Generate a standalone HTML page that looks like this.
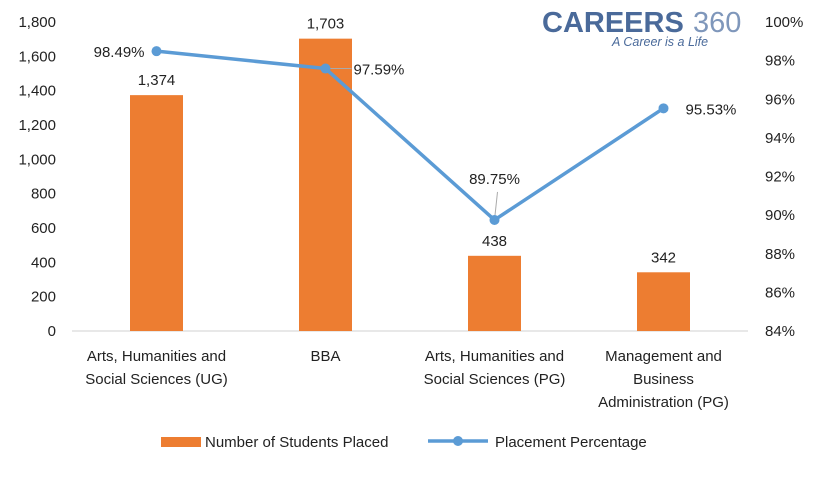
<!DOCTYPE html>
<html><head><meta charset="utf-8"><style>
body{margin:0;background:#fff;}
svg text{font-family:"Liberation Sans",sans-serif;}
.t{font-size:15px;fill:#222;}
</style></head><body>
<svg width="820" height="473">
<g>
<text x="542" y="32" font-size="29" font-weight="bold" fill="#4a6a9a">CAREERS</text>
<text x="693" y="32" font-size="29" fill="#7f97bb">360</text>
<text x="612" y="46" font-size="12.5" font-style="italic" fill="#4a6a9a">A Career is a Life</text>
</g>
<g id="plot"></g>
<g>
<rect x="161" y="437" width="40" height="10" fill="#ed7d31"/>
<text class="t" x="205" y="447">Number of Students Placed</text>
<line x1="428" y1="441" x2="488" y2="441" stroke="#5b9bd5" stroke-width="3.5"/>
<circle cx="458" cy="441" r="5" fill="#5b9bd5"/>
<text class="t" x="495" y="447">Placement Percentage</text>
</g>
</svg>
<script>
const categories=[["Arts, Humanities and","Social Sciences (UG)"],["BBA"],["Arts, Humanities and","Social Sciences (PG)"],["Management and","Business","Administration (PG)"]];
const studentsPlaced=[1374,1703,438,342];
const placementPct=[98.49,97.59,89.75,95.53];
const leftTicks=[0,200,400,600,800,1000,1200,1400,1600,1800];
const rightTicks=[84,86,88,90,92,94,96,98,100];
const NS="http://www.w3.org/2000/svg";
const g=document.getElementById('plot');
const x0=72,x1=748,yb=331,yt=22;
const band=(x1-x0)/categories.length;
const cx=i=>x0+band*(i+0.5);
const yL=v=>yb-(v/1800)*(yb-yt);
const yR=v=>yb-((v-84)/16)*(yb-yt);
function mk(tag,attrs,txt){const e=document.createElementNS(NS,tag);for(const k in attrs)e.setAttribute(k,attrs[k]);if(txt!==undefined)e.textContent=txt;g.appendChild(e);return e;}
leftTicks.forEach(v=>{const e=mk('text',{class:'t',x:56,y:yL(v)+5,'text-anchor':'end'},v.toLocaleString('en-US'));

});
rightTicks.forEach(v=>{const e=mk('text',{class:'t',x:765,y:yR(v)+5},v+'%');

});
const ax=mk('line',{x1:x0,x2:x1,y1:yb,y2:yb,stroke:'#d0d0d0','stroke-width':1});


const bw=53;
studentsPlaced.forEach((v,i)=>{
const r=mk('rect',{x:cx(i)-bw/2,y:yL(v),width:bw,height:yb-yL(v),fill:'#ed7d31'});


const t=mk('text',{class:'t',x:cx(i),y:yL(v)-10,'text-anchor':'middle'},v.toLocaleString('en-US'));


categories[i].forEach((ln,j)=>{const c=mk('text',{class:'t',x:cx(i),y:361+j*23,'text-anchor':'middle'},ln);

});
});
const pts=placementPct.map((v,i)=>[cx(i),yR(v)]);
const pl=mk('polyline',{points:pts.map(p=>p.join(',')).join(' '),fill:'none',stroke:'#5b9bd5','stroke-width':3.5,'stroke-linejoin':'round'});


const off=[[-12,6,'end'],[28,6,'start'],[0,-36,'middle'],[22,6,'start']];
pts.forEach((p,i)=>{
if(i===1){const l=mk('line',{x1:p[0],y1:p[1],x2:p[0]+26,y2:p[1],stroke:'#aaa'});}
if(i===2){const l=mk('line',{x1:p[0],y1:p[1],x2:p[0]+3,y2:p[1]-28,stroke:'#aaa'});}
const c=mk('circle',{cx:p[0],cy:p[1],r:5,fill:'#5b9bd5'});


const t=mk('text',{class:'t',x:p[0]+off[i][0],y:p[1]+off[i][1],'text-anchor':off[i][2]},placementPct[i].toFixed(2)+'%');


});
</script>
</body></html>
